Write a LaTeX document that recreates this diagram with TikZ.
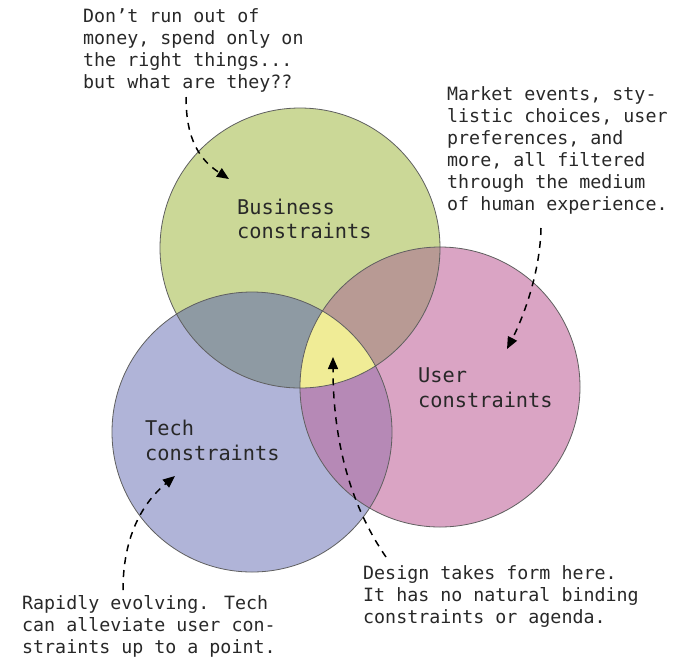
\documentclass[tikz,border=0pt]{standalone}
\usepackage{fontspec}
\setmainfont{DejaVu Sans Mono}
\usetikzlibrary{arrows.meta}
\definecolor{cbiz}{RGB}{203,216,151}
\definecolor{ctech}{RGB}{176,180,216}
\definecolor{cuser}{RGB}{218,164,196}
\definecolor{cbt}{RGB}{142,154,163}
\definecolor{cbu}{RGB}{184,154,148}
\definecolor{ctu}{RGB}{182,137,182}
\definecolor{call}{RGB}{240,236,150}
\definecolor{cline}{RGB}{95,95,95}
\definecolor{ctext}{RGB}{40,40,40}
\tikzset{
  venn/.style={circle,minimum size=280pt,inner sep=0pt},
  note/.style={align=left,inner sep=0pt,anchor=base west,text=ctext,font=\fontsize{18.3pt}{22pt}\selectfont},
  label/.style={align=left,inner sep=0pt,anchor=base west,text=ctext,font=\fontsize{20.3pt}{24.5pt}\selectfont},
  pointer/.style={draw=black,line width=1.5pt,dash pattern=on 7pt off 6pt,-{Triangle[length=12pt,width=10pt]}}
}
\begin{document}
\begin{tikzpicture}[x=1pt,y=-1pt]
\useasboundingbox (0,0) rectangle (677,657);
\coordinate (cb) at (300,248);
\coordinate (ct) at (252,432);
\coordinate (cu) at (440,387);
\node[venn,fill=cbiz] (biz) at (cb) {};
\node[venn,fill=ctech] (tech) at (ct) {};
\node[venn,fill=cuser] (user) at (cu) {};
\begin{scope}
  \clip (cb) circle[radius=140];
  \fill[cbt] (ct) circle[radius=140];
  \fill[cbu] (cu) circle[radius=140];
\end{scope}
\begin{scope}
  \clip (ct) circle[radius=140];
  \fill[ctu] (cu) circle[radius=140];
  \clip (cb) circle[radius=140];
  \fill[call] (cu) circle[radius=140];
\end{scope}
\draw[cline,line width=0.8pt] (cb) circle[radius=140] (ct) circle[radius=140] (cu) circle[radius=140];

\node[label] (lbiz) at (237,238.5) {Business\\constraints};
\node[label] (luser) at (418,407) {User\\constraints};
\node[label] (ltech) at (145,460) {Tech\\constraints};

\node[note] (n1) at (83,88) {Don’t run out of\\money, spend only on\\the right things...\\but what are they??};
\node[note] (n2) at (447,210) {Market events, sty-\\listic choices, user\\preferences, and\\more, all filtered\\through the medium\\of human experience.};
\node[note] (n3) at (22,653) {Rapidly evolving. Tech\\can alleviate user con-\\straints up to a point.};
\node[note] (n4) at (363,623) {Design takes form here.\\It has no natural binding\\constraints or agenda.};

\coordinate (a1s) at (186,97);  \coordinate (a1e) at (229,179);
\coordinate (a2s) at (541,228); \coordinate (a2e) at (507,349);
\coordinate (a3s) at (386,557); \coordinate (a3e) at (333,357);
\coordinate (a4s) at (123,590); \coordinate (a4e) at (175,476);
\draw[pointer] (a1s) .. controls (186,140) and (200,160) .. (a1e);
\draw[pointer] (a2s) .. controls (540,275) and (522,320) .. (a2e);
\draw[pointer] (a3s) .. controls (350,505) and (333,440) .. (a3e);
\draw[pointer] (a4s) .. controls (123,540) and (140,505) .. (a4e);
\end{tikzpicture}
\end{document}
